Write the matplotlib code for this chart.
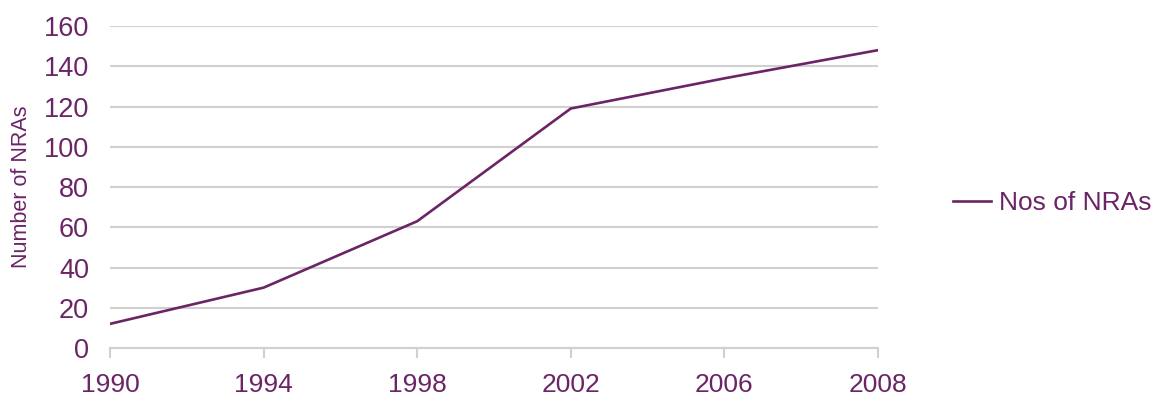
import matplotlib
matplotlib.use('Agg')
import matplotlib.pyplot as plt

# Number of national regulatory authorities by year
years = ['1990', '1994', '1998', '2002', '2006', '2008']
nos_of_nras = [12, 30, 63, 119, 134, 148]

y_ticks = [0, 20, 40, 60, 80, 100, 120, 140, 160]

purple = '#6B2466'
grid_grey = '#D0D0D0'

plt.rcParams['font.family'] = ['Liberation Sans', 'DejaVu Sans']

fig = plt.figure(figsize=(11.58, 3.97), dpi=100)
ax = fig.add_axes([0.095, 0.1234, 0.6632, 0.8111])

x = list(range(len(years)))
ax.plot(x, nos_of_nras, color=purple, linewidth=1.9, label='Nos of NRAs', solid_joinstyle='miter')

ax.set_xlim(0, len(years) - 1)
ax.set_ylim(0, 160)
ax.set_xticks(x)
ax.set_xticklabels(years)
ax.set_yticks(y_ticks)

# Horizontal gridlines only
ax.grid(axis='y', color=grid_grey, linewidth=1.5)
ax.set_axisbelow(True)

for side in ['top', 'right', 'left']:
    ax.spines[side].set_visible(False)
ax.spines['bottom'].set_color(grid_grey)
ax.spines['bottom'].set_linewidth(1.5)

ax.tick_params(axis='y', length=0, pad=15, labelsize=19.5, labelcolor=purple)
ax.tick_params(axis='x', length=7, width=1.5, color=grid_grey, pad=11, labelsize=19, labelcolor=purple)

ax.set_ylabel('Number of NRAs', fontsize=15.5, color=purple)
ax.yaxis.set_label_coords(-0.101, 0.5)

ax.legend(loc='center left', bbox_to_anchor=(0.823, 0.489), bbox_transform=fig.transFigure,
          frameon=False, fontsize=19, handlelength=1.45, handletextpad=0.3,
          borderpad=0, borderaxespad=0, labelcolor=purple)

fig.savefig('out.png', dpi=100)
